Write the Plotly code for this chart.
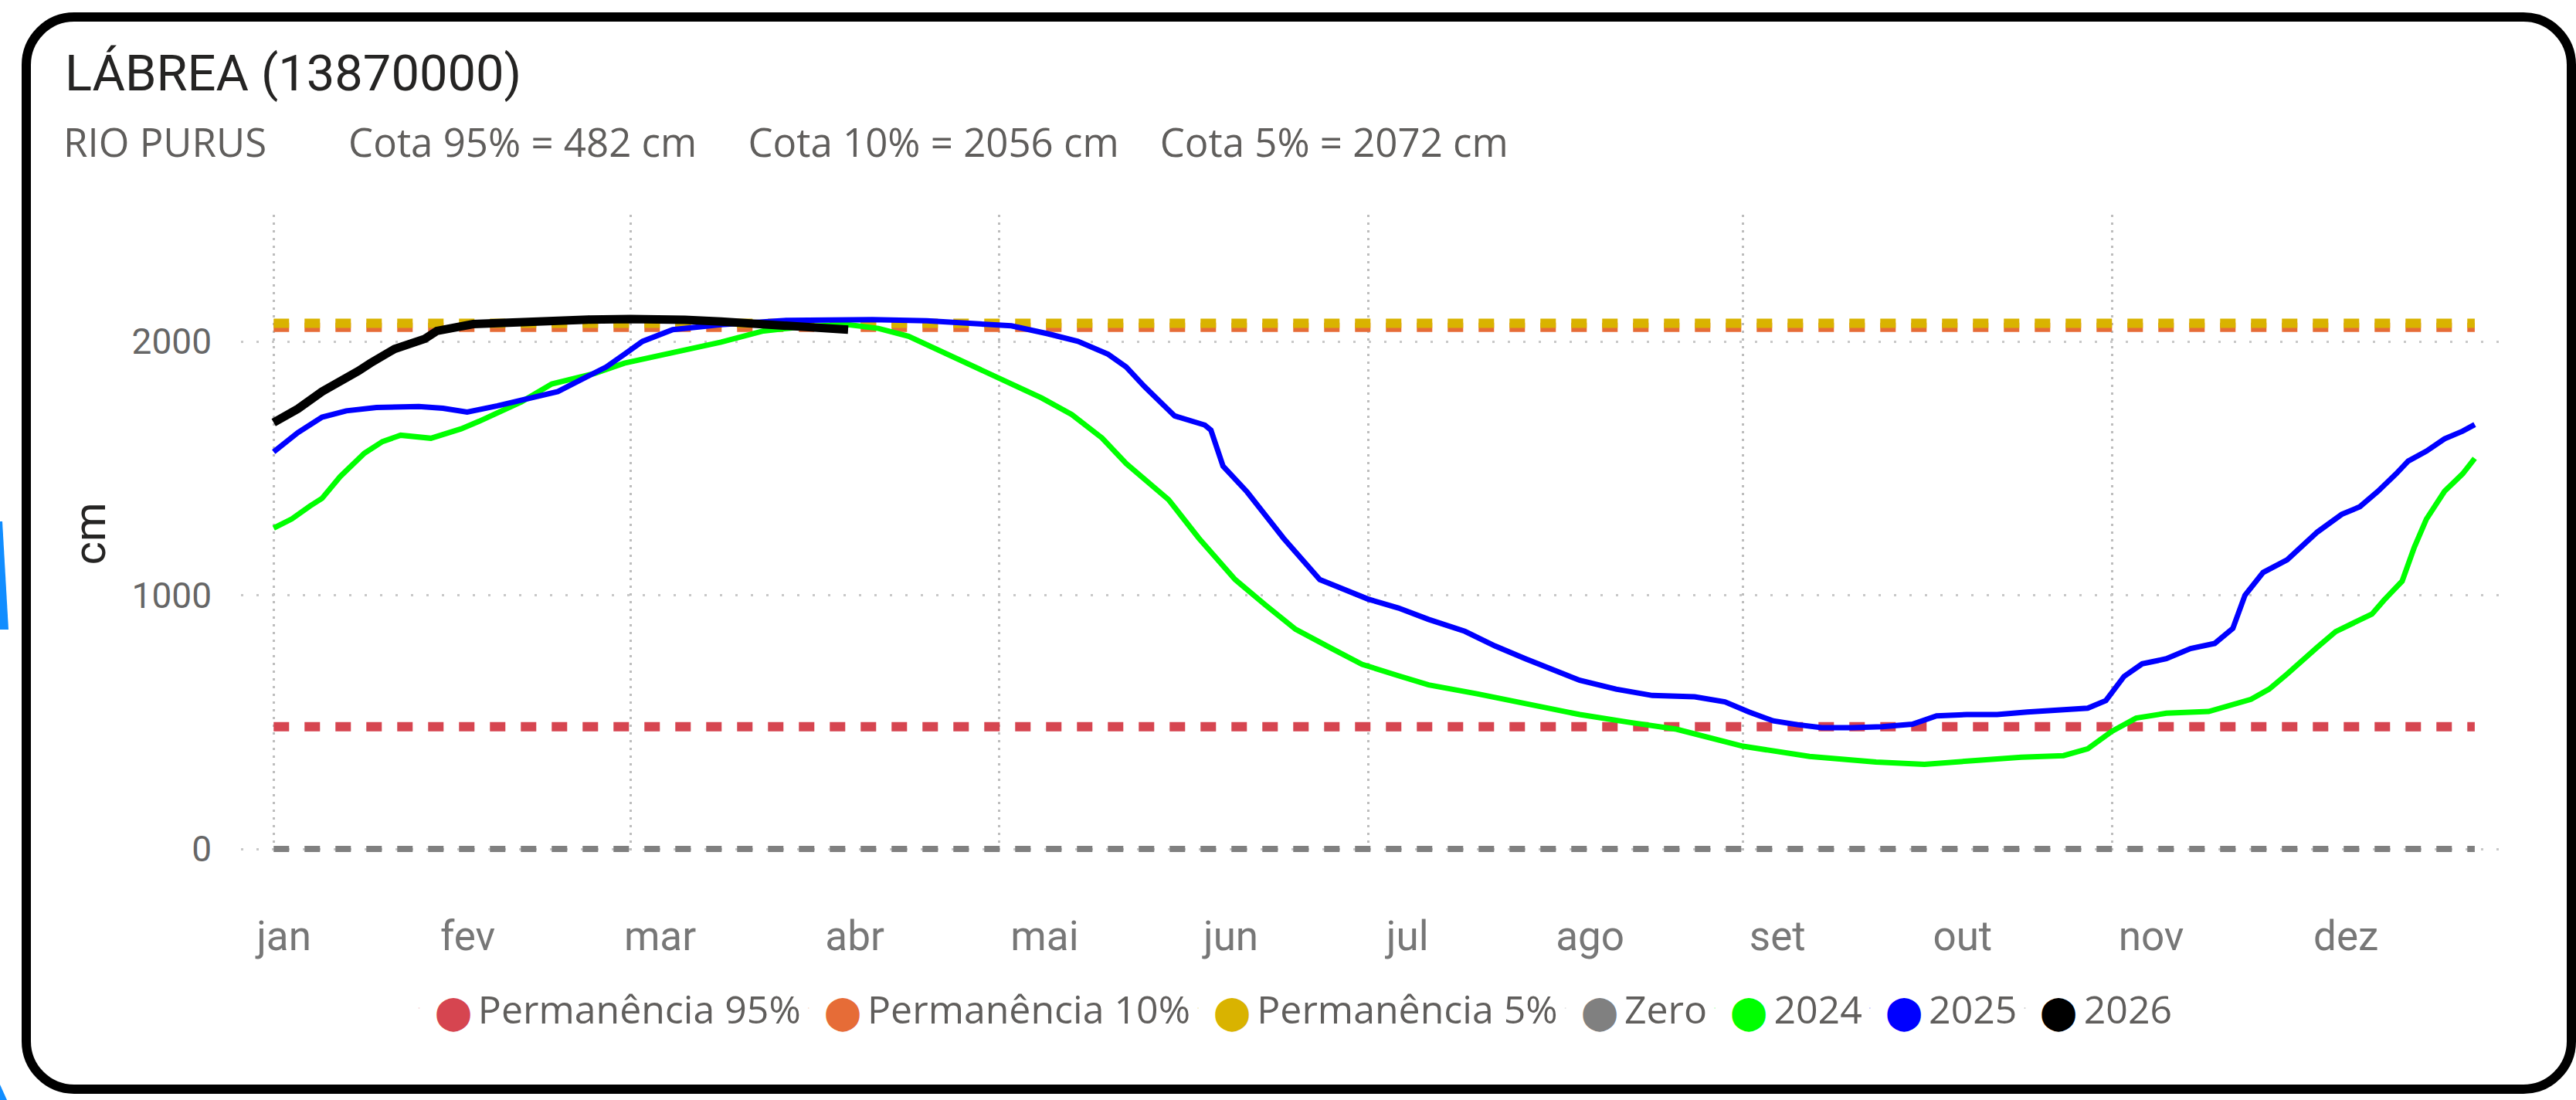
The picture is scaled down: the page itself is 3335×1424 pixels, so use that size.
import plotly.graph_objects as go

# ---------------- data ----------------
month_labels = ["jan", "fev", "mar", "abr", "mai", "jun", "jul", "ago", "set", "out", "nov", "dez"]
label_days = [1.7, 32.1, 63.9, 96.1, 127.5, 158.3, 187.5, 217.7, 248.7, 279.3, 310.5, 342.7]
grid_days = [0, 59, 120, 181, 243, 304]          # 1 jan, 1 mar, 1 mai, 1 jul, 1 set, 1 nov
y_ticks = [0, 1000, 2000]

ref_names = ["Permanência 95%", "Permanência 10%", "Permanência 5%", "Zero"]
ref_values = [482, 2056, 2072, 0]
ref_colors = ["#D64550", "#E66C37", "#D9B300", "#808080"]
ref_widths = [12, 12, 12, 8]
ref_days = [0, 364]

days_2024 = [0, 3, 6, 8, 11, 15, 18, 21, 26, 31, 34, 41, 46, 53, 58, 66, 74, 81, 88, 95,
             100, 105, 112, 120, 127, 132, 137, 141, 148, 153, 159, 164, 169, 175, 180, 186,
             191, 199, 207, 216, 224, 232, 243, 254, 265, 273, 281, 289, 296, 300, 304, 308,
             313, 320, 327, 330, 333, 336, 338, 341, 344, 347, 349, 352, 354, 356, 359, 362, 364]
cota_2024 = [1265, 1301, 1352, 1382, 1468, 1560, 1606, 1631, 1619, 1656, 1686, 1763, 1833, 1874,
             1915, 1955, 1998, 2042, 2060, 2067, 2052, 2021, 1945, 1859, 1778, 1712, 1620, 1519,
             1377, 1225, 1062, 962, 866, 790, 728, 683, 647, 612, 573, 530, 500, 472, 405, 365,
             343, 334, 348, 362, 368, 395, 464, 516, 535, 542, 590, 630, 690, 750, 796, 857, 890,
             926, 981, 1056, 1189, 1300, 1410, 1479, 1540]

days_2025 = [0, 4, 8, 12, 17, 24, 28, 32, 37, 44, 47, 52, 55, 58, 61, 66, 74, 85, 99, 108, 115,
             122, 128, 133, 138, 141, 144, 149, 154, 155, 157, 161, 164, 167, 173, 176, 181, 186,
             191, 197, 202, 207, 212, 216, 222, 228, 235, 240, 244, 248, 252, 256, 261, 266, 271,
             275, 280, 285, 290, 295, 300, 303, 306, 309, 313, 317, 321, 324, 326, 329, 333, 338,
             340, 342, 345, 348, 351, 353, 356, 359, 362, 364]
cota_2025 = [1565, 1641, 1702, 1727, 1740, 1744, 1737, 1722, 1747, 1783, 1803, 1864, 1900, 1950,
             2001, 2047, 2067, 2084, 2087, 2082, 2072, 2062, 2031, 2001, 1950, 1900, 1823, 1707,
             1671, 1651, 1509, 1407, 1316, 1225, 1062, 1034, 985, 950, 905, 858, 800, 750, 700,
             665, 630, 605, 600, 580, 540, 505, 490, 478, 478, 482, 492, 525, 530, 530, 540, 545,
             555, 585, 680, 730, 750, 790, 810, 870, 1000, 1090, 1140, 1250, 1286, 1319, 1349,
             1410, 1479, 1529, 1568, 1617, 1647, 1673]

days_2026 = [0, 4, 8, 11, 14, 16, 20, 25, 27, 33, 40, 44, 52, 59, 63, 68, 74, 81, 88, 95]
cota_2026 = [1681, 1735, 1803, 1840, 1884, 1915, 1971, 2011, 2042, 2069, 2078, 2085, 2087, 2089,
             2091, 2086, 2079, 2067, 2053, 2047]

year_names = ["2024", "2025", "2026"]
year_colors = ["#00FF00", "#0000FF", "#000000"]
year_widths = [7, 7, 11]

title_text = "LÁBREA (13870000)"
subtitle_text = ("RIO PURUS" + "\u00a0" * 8 + "Cota 95% = 482 cm" + "\u00a0" * 5 +
                 "Cota 10% = 2056 cm" + "\u00a0" * 4 + "Cota 5% = 2072 cm")

# ---------------- geometry ----------------
W, H = 3335, 1424
ML, MR, MT, MB = 312, 99, 278, 320
PW, PH = W - ML - MR, H - MT - MB


def to_paper(X, Y):
    return (X - ML) / PW, (H - MB - Y) / PH


def pt(X, Y):
    x, y = to_paper(X, Y)
    return f"{x:.6f},{y:.6f}"


def rounded_rect(x0, y0, x1, y1, r):
    k = 0.5523 * r
    return (f"M {pt(x0 + r, y0)} L {pt(x1 - r, y0)} "
            f"C {pt(x1 - r + k, y0)} {pt(x1, y0 + r - k)} {pt(x1, y0 + r)} "
            f"L {pt(x1, y1 - r)} "
            f"C {pt(x1, y1 - r + k)} {pt(x1 - r + k, y1)} {pt(x1 - r, y1)} "
            f"L {pt(x0 + r, y1)} "
            f"C {pt(x0 + r - k, y1)} {pt(x0, y1 - r + k)} {pt(x0, y1 - r)} "
            f"L {pt(x0, y0 + r)} "
            f"C {pt(x0, y0 + r - k)} {pt(x0 + r - k, y0)} {pt(x0 + r, y0)} Z")


fig = go.Figure()

# reference lines
for name, val, col, lw in zip(ref_names, ref_values, ref_colors, ref_widths):
    fig.add_trace(go.Scatter(x=ref_days, y=[val] * len(ref_days), mode="lines", name=name,
                             legendgroup=name, showlegend=False,
                             line=dict(color=col, width=lw, dash="20px,20px")))

# yearly series
series = [(days_2024, cota_2024), (days_2025, cota_2025), (days_2026, cota_2026)]
for (d, v), name, col, lw in zip(series, year_names, year_colors, year_widths):
    fig.add_trace(go.Scatter(x=d, y=v, mode="lines", name=name, legendgroup=name,
                             showlegend=False, line=dict(color=col, width=lw)))

# legend entries (large round markers as in the original)
for name, col in zip(ref_names + year_names, ref_colors + year_colors):
    fig.add_trace(go.Scatter(
        x=[None], y=[None], mode="markers", legendgroup=name, showlegend=True,
        name=f'<span style="color:{col};font-size:43px">\u2b24</span>\u2009{name}',
        marker=dict(size=2, opacity=0, color=col), hoverinfo="skip"))

shapes = [
    dict(type="path", xref="paper", yref="paper", path=rounded_rect(34, 22, 3329, 1410, 62),
         line=dict(color="#000000", width=12), fillcolor="rgba(0,0,0,0)", layer="above"),
    dict(type="path", xref="paper", yref="paper",
         path=f"M {pt(0, 675)} L {pt(3, 675)} L {pt(11, 815)} L {pt(0, 815)} Z",
         line=dict(width=0), fillcolor="#118DFF"),
    dict(type="path", xref="paper", yref="paper",
         path=f"M {pt(0, 1404)} L {pt(9, 1424)} L {pt(0, 1424)} Z",
         line=dict(width=0), fillcolor="#118DFF"),
]

sx, sy = to_paper(81, 183)

fig.update_layout(
    width=W, height=H,
    margin=dict(l=ML, r=MR, t=MT, b=MB, pad=0),
    paper_bgcolor="#FFFFFF", plot_bgcolor="#FFFFFF",
    title=dict(text=title_text, x=84 / W, xref="container", xanchor="left",
               y=1 - 71.5 / H, yref="container", yanchor="top",
               font=dict(family="Roboto", size=65, color="#252423")),
    annotations=[dict(text=subtitle_text, x=sx, y=sy, xref="paper", yref="paper",
                      xanchor="left", yanchor="middle", showarrow=False, borderpad=0,
                      font=dict(family="Open Sans", size=51, color="#605E5C"))],
    shapes=shapes,
    showlegend=True,
    legend=dict(orientation="h", x=0.503, xref="container", xanchor="center",
                y=1 - 1305 / H, yref="container", yanchor="middle",
                bgcolor="rgba(0,0,0,0)", itemwidth=30, indentation=-15,
                font=dict(family="Open Sans", size=50, color="#605E5C")),
    xaxis=dict(range=[-5.4, 368.1], tickmode="array", tickvals=label_days, ticktext=month_labels,
               showgrid=False, zeroline=False, showline=False, ticks="",
               tickfont=dict(family="Roboto", size=53, color="#777777"),
               ticklabelstandoff=72,
               minor=dict(tickmode="array", tickvals=grid_days, showgrid=True, ticks="",
                          gridcolor="#BDBDBD", gridwidth=3, griddash="3px,7px")),
    yaxis=dict(range=[-15, 2500], tickmode="array", tickvals=y_ticks,
               showgrid=True, gridcolor="#C8C8C8", gridwidth=3, griddash="3px,17px",
               zeroline=False, showline=False, ticks="",
               tickfont=dict(family="Roboto", size=46, color="#666666"),
               ticklabelstandoff=37,
               title=dict(text="cm", standoff=15,
                          font=dict(family="Roboto", size=58, color="#252423"))),
)

fig.write_html("out.html", config={"displayModeBar": False},
               post_script="document.body.style.margin='0';document.body.style.overflow='hidden';")
